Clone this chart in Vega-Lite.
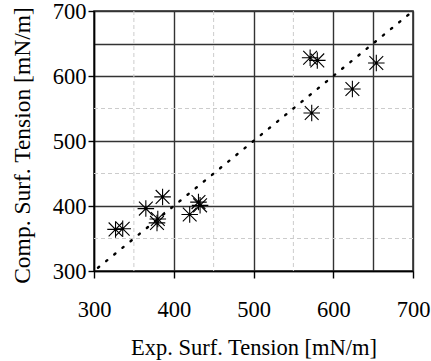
{
  "$schema": "https://vega.github.io/schema/vega-lite/v6.json",
  "width": 319,
  "height": 260,
  "autosize": "none",
  "padding": {"left": 94, "top": 11, "right": 18, "bottom": 90},
  "background": "white",
  "config": {
    "view": {"stroke": "#222", "strokeWidth": 1.5},
    "font": "Liberation Serif"
  },
  "layer": [
    {
      "data": {"values": [{"g": 350}, {"g": 450}, {"g": 550}]},
      "layer": [
        {
          "mark": {"type": "rule", "color": "#cccccc", "strokeDash": [4, 3], "strokeWidth": 1},
          "encoding": {"x": {"field": "g", "type": "quantitative", "title": "Exp. Surf. Tension [mN/m]"}}
        },
        {
          "mark": {"type": "rule", "color": "#cccccc", "strokeDash": [4, 3], "strokeWidth": 1},
          "encoding": {"y": {"field": "g", "type": "quantitative", "title": "Comp. Surf. Tension [mN/m]"}}
        }
      ]
    },
    {
      "data": {"values": [{"exp": 305, "comp": 305}, {"exp": 695, "comp": 695}]},
      "mark": {"type": "line", "color": "black", "strokeDash": [1.5, 9], "strokeWidth": 2.4, "strokeCap": "round"},
      "encoding": {
        "x": {"field": "exp", "type": "quantitative", "title": "Exp. Surf. Tension [mN/m]"},
        "y": {"field": "comp", "type": "quantitative", "title": "Comp. Surf. Tension [mN/m]"}
      }
    },
    {
      "data": {
        "values": [
          {"exp": 327, "comp": 364},
          {"exp": 336, "comp": 365},
          {"exp": 365, "comp": 396},
          {"exp": 386, "comp": 414},
          {"exp": 380, "comp": 380},
          {"exp": 379, "comp": 374},
          {"exp": 420, "comp": 387},
          {"exp": 431, "comp": 406},
          {"exp": 433, "comp": 401},
          {"exp": 571, "comp": 628},
          {"exp": 580, "comp": 624},
          {"exp": 573, "comp": 543},
          {"exp": 624, "comp": 580},
          {"exp": 654, "comp": 620}
        ]
      },
      "mark": {
        "type": "point",
        "shape": "M-1,-1L1,1M-1,1L1,-1M0,-1.2L0,1.2M-1.2,0L1.2,0",
        "filled": false,
        "stroke": "black",
        "strokeWidth": 1.1,
        "size": 190,
        "opacity": 1
      },
      "encoding": {
        "x": {
          "field": "exp",
          "type": "quantitative",
          "title": "Exp. Surf. Tension [mN/m]",
          "scale": {"domain": [300, 700], "nice": false, "zero": false},
          "axis": {
            "values": [300, 400, 500, 600, 650, 700],
            "labelExpr": "datum.value == 650 ? '' : datum.label",
            "grid": true,
            "gridColor": "#333",
            "gridWidth": 1.4,
            "domainColor": "black",
            "domainWidth": 1.5,
            "tickColor": {"condition": {"test": "datum.value == 650", "value": "transparent"}, "value": "black"},
            "tickSize": 7,
            "tickWidth": 1.4,
            "labelFontSize": 22.5,
            "labelColor": "black",
            "labelPadding": 20,
            "labelFlush": false,
            "titleFontSize": 22.5,
            "titleFontWeight": "normal",
            "titleColor": "black",
            "titlePadding": 16
          }
        },
        "y": {
          "field": "comp",
          "type": "quantitative",
          "title": "Comp. Surf. Tension [mN/m]",
          "scale": {"domain": [300, 700], "nice": false, "zero": false},
          "axis": {
            "values": [300, 400, 500, 600, 650, 700],
            "labelExpr": "datum.value == 650 ? '' : datum.label",
            "grid": true,
            "gridColor": "#333",
            "gridWidth": 1.4,
            "domainColor": "black",
            "domainWidth": 1.5,
            "tickColor": {"condition": {"test": "datum.value == 650", "value": "transparent"}, "value": "black"},
            "tickSize": 6,
            "tickWidth": 1.4,
            "labelFontSize": 22.5,
            "labelColor": "black",
            "labelPadding": 2,
            "labelFlush": false,
            "titleFontSize": 23.5,
            "titleFontWeight": "normal",
            "titleColor": "black",
            "titlePadding": 18,
            "titleY": 134
          }
        }
      }
    }
  ]
}
